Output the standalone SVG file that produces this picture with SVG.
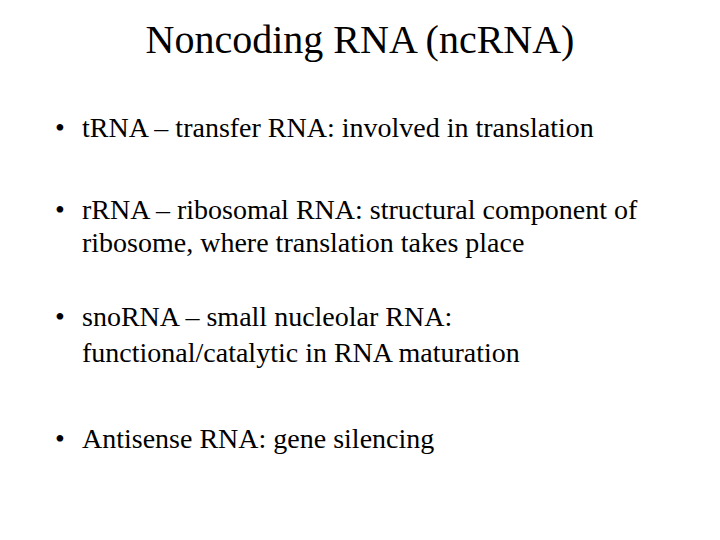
<svg xmlns="http://www.w3.org/2000/svg" width="720" height="540" viewBox="0 0 720 540">
<style>
text{font-family:"Liberation Serif","Times New Roman",serif;fill:#000}
.b{font-size:28px}
.t{font-size:40px}
</style>
<rect width="720" height="540" fill="#fff"/>
<g id="title"><text class="t" x="360" y="53" text-anchor="middle">Noncoding RNA (ncRNA)</text></g>
<g id="b1"><text class="b" x="55" y="137">•</text><text class="b" x="82" y="137">tRNA – transfer RNA: involved in translation</text></g>
<g id="b2"><text class="b" x="55" y="219">•</text><text class="b" x="82" y="219">rRNA – ribosomal RNA: structural component of</text><text class="b" x="82" y="252">ribosome, where translation takes place</text></g>
<g id="b3"><text class="b" x="55" y="326">•</text><text class="b" x="82" y="326">snoRNA – small nucleolar RNA:</text><text class="b" x="82" y="362">functional/catalytic in RNA maturation</text></g>
<g id="b4"><text class="b" x="55" y="448">•</text><text class="b" x="82" y="448">Antisense RNA: gene silencing</text></g>
</svg>
